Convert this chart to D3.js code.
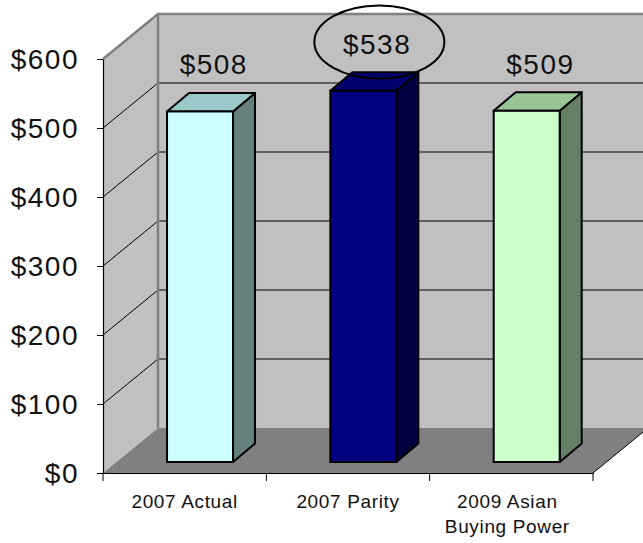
<!DOCTYPE html>
<html>
<head>
<meta charset="utf-8">
<script src="https://cdn.jsdelivr.net/npm/d3@7"></script>
<style>
  html, body { margin: 0; padding: 0; background: #ffffff; }
  svg { display: block; font-family: "Liberation Sans", Arial, sans-serif; }
</style>
</head>
<body>
<svg id="chart" width="643" height="543"></svg>
<script>
// ---- data ----
const categories = ["2007 Actual", "2007 Parity", "2009 Asian Buying Power"];
const categoryLines = [["2007 Actual"], ["2007 Parity"], ["2009 Asian", "Buying Power"]];
const values = [508, 538, 509];
const valueLabels = ["$508", "$538", "$509"];
const yTicks = [0, 100, 200, 300, 400, 500, 600];
const frontColors = ["#ccffff", "#000080", "#ccffcc"];
const topColors = ["#99c9c9", "#00006e", "#99c699"];
const sideColors = ["#668080", "#000040", "#668066"];
const highlighted = ["2007 Parity"];

// ---- layout ----
const svg = d3.select("#chart");
const mLeft = 103, mRight = 593, mBottom = 473, mTop = 59;
const depthX = 55, depthY = 45;       // wall depth offset
const barFrontX = 13.4, barFrontY = 11; // bar front plane offset
const barDX = 22, barDY = 18.5;        // bar depth

const x = d3.scaleBand().domain(categories).range([mLeft, mRight]).padding(0);
const y = d3.scaleLinear().domain([0, 600]).range([mBottom, mTop]);
const bw = x.bandwidth();

const g = svg.append("g");

// back wall
g.append("path")
  .attr("d", `M${mLeft + depthX},${y(600) - depthY} L${mRight + depthX},${y(600) - depthY} L${mRight + depthX},${y(0) - depthY} L${mLeft + depthX},${y(0) - depthY} Z`)
  .attr("fill", "#c0c0c0");
// left wall
g.append("path")
  .attr("d", `M${mLeft},${y(600)} L${mLeft + depthX},${y(600) - depthY} L${mLeft + depthX},${y(0) - depthY} L${mLeft},${y(0)} Z`)
  .attr("fill", "#c0c0c0");
// floor
g.append("path")
  .attr("d", `M${mLeft},${y(0)} L${mLeft + depthX},${y(0) - depthY} L${mRight + depthX},${y(0) - depthY} L${mRight},${y(0)} Z`)
  .attr("fill", "#808080");

// gridlines
const gridVals = yTicks.filter(v => v > 0 && v < 600);
g.selectAll(".gback").data(gridVals).enter().append("line")
  .attr("x1", mLeft + depthX).attr("x2", mRight + depthX)
  .attr("y1", d => y(d) - depthY).attr("y2", d => y(d) - depthY)
  .attr("stroke", "#000").attr("stroke-width", 1);
g.selectAll(".gside").data(gridVals).enter().append("line")
  .attr("x1", mLeft).attr("x2", mLeft + depthX)
  .attr("y1", d => y(d)).attr("y2", d => y(d) - depthY)
  .attr("stroke", "#000").attr("stroke-width", 1);

// wall borders (gray)
g.append("path")
  .attr("d", `M${mLeft},${y(600)} L${mLeft + depthX},${y(600) - depthY} L${mRight + depthX + 10},${y(600) - depthY}`)
  .attr("fill", "none").attr("stroke", "#808080").attr("stroke-width", 2.5);
g.append("line")
  .attr("x1", mLeft + depthX).attr("x2", mLeft + depthX)
  .attr("y1", y(600) - depthY).attr("y2", y(0) - depthY)
  .attr("stroke", "#808080").attr("stroke-width", 2.5);

// floor right edge
g.append("line")
  .attr("x1", mRight).attr("y1", y(0)).attr("x2", mRight + depthX).attr("y2", y(0) - depthY)
  .attr("stroke", "#000").attr("stroke-width", 1);

// bars
const bars = g.selectAll(".bar").data(categories.map((c, i) => ({c, v: values[i], i})))
  .enter().append("g");
bars.each(function(d) {
  const sel = d3.select(this);
  const x0 = x(d.c) + bw * 0.31 + barFrontX;
  const x1 = x0 + bw * 0.404;
  const yb = y(0) - barFrontY;
  const yt = y(d.v) - barFrontY;
  // side
  sel.append("path")
    .attr("d", `M${x1},${yb} L${x1 + barDX},${yb - barDY} L${x1 + barDX},${yt - barDY} L${x1},${yt} Z`)
    .attr("fill", sideColors[d.i]).attr("stroke", "#000").attr("stroke-width", 2).attr("stroke-linejoin", "round");
  // top
  sel.append("path")
    .attr("d", `M${x0},${yt} L${x0 + barDX},${yt - barDY} L${x1 + barDX},${yt - barDY} L${x1},${yt} Z`)
    .attr("fill", topColors[d.i]).attr("stroke", "#000").attr("stroke-width", 2).attr("stroke-linejoin", "round");
  // front
  sel.append("rect")
    .attr("x", x0).attr("y", yt).attr("width", x1 - x0).attr("height", yb - yt)
    .attr("fill", frontColors[d.i]).attr("stroke", "#000").attr("stroke-width", 2);
  // value label
  const cx = (x0 + x1) / 2 + barDX / 2 + 2;
  const cy = yt - barDY / 2;
  const base = cy - 28;
  sel.append("text")
    .attr("x", cx + 0.75).attr("y", base)
    .attr("text-anchor", "middle")
    .attr("font-size", 28).attr("letter-spacing", 1.5).attr("fill", "#111")
    .text(valueLabels[d.i]);
  if (highlighted.includes(d.c)) {
    sel.append("ellipse")
      .attr("cx", cx + 3).attr("cy", base - 11.5)
      .attr("rx", 65).attr("ry", 36.5)
      .attr("fill", "none").attr("stroke", "#000").attr("stroke-width", 2);
  }
});

// y axis
const yAxis = d3.axisLeft(y).tickValues(yTicks).tickSize(6).tickSizeOuter(0)
  .tickFormat(d => "$" + d);
const ya = svg.append("g").attr("transform", `translate(${mLeft},0)`).call(yAxis);
ya.select(".domain").attr("stroke", "#000").attr("stroke-width", 1.2);
ya.selectAll(".tick line").attr("stroke", "#000");
ya.selectAll(".tick text")
  .attr("x", -24).attr("dy", null).attr("y", 9)
  .attr("font-size", 28).attr("letter-spacing", 1.5)
  .attr("font-family", "Liberation Sans, Arial, sans-serif")
  .attr("fill", "#111");

// x axis
const xAxis = d3.axisBottom(x).tickSize(0).tickSizeOuter(0).tickFormat("");
const xa = svg.append("g").attr("transform", `translate(0,${mBottom})`).call(xAxis);
xa.select(".domain").attr("stroke", "#000").attr("stroke-width", 1.2);
const boundaries = categories.map(c => x(c)).concat([x(categories[categories.length - 1]) + bw]);
xa.selectAll(".bnd").data(boundaries).enter().append("line")
  .attr("x1", d => d).attr("x2", d => d).attr("y1", 0).attr("y2", 8)
  .attr("stroke", "#000");
xa.selectAll(".tick").each(function(c, i) {
  const t = d3.select(this).append("text")
    .attr("text-anchor", "middle").attr("fill", "#111")
    .attr("font-size", 19).attr("letter-spacing", 0.65)
    .attr("font-family", "Liberation Sans, Arial, sans-serif");
  categoryLines[i].forEach((line, k) => {
    t.append("tspan").attr("x", i === 2 ? -4 : 0).attr("y", 35 + k * 24.5).text(line);
  });
});
</script>
</body>
</html>
